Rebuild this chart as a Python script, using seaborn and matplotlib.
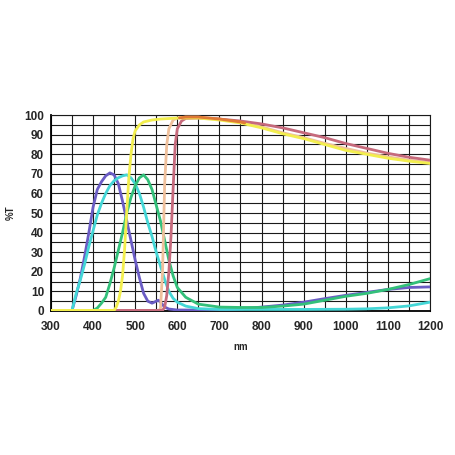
import numpy as np
import pandas as pd
import seaborn as sns
import matplotlib.pyplot as plt

# transmission curves (nm, %T)
violet_nm = [300, 350, 360, 370, 380, 390, 400, 410, 420, 430, 440, 450, 460, 470, 480, 490, 500, 510, 520, 530, 540, 550, 555, 560, 570, 580, 600, 700, 750, 800, 850, 900, 950, 1000, 1050, 1100, 1150, 1200]
violet_t = [0.3, 0.3, 8, 17, 28, 40, 53, 62, 66, 69, 70.5, 69.5, 65, 56, 46, 36, 26, 17, 9, 5, 4, 5, 5.5, 4.5, 2, 1, 0.5, 0.5, 1, 2, 3, 4.5, 6.3, 8, 9.5, 11, 12, 12.3]

turq_nm = [300, 350, 360, 370, 380, 390, 400, 410, 420, 430, 440, 450, 460, 470, 480, 490, 500, 510, 520, 530, 540, 550, 560, 570, 580, 590, 600, 620, 650, 700, 800, 900, 1000, 1050, 1100, 1150, 1200]
turq_t = [0.3, 0.3, 9, 16, 24, 33, 41, 49, 55, 60, 64, 66.5, 68, 69, 69.5, 68, 65, 60, 53, 45, 38, 30, 23, 16, 10, 6.5, 4.5, 2.5, 1.2, 0.8, 0.8, 0.8, 0.9, 1.1, 1.6, 2.6, 4.5]

green_nm = [300, 400, 410, 420, 430, 440, 450, 460, 470, 480, 490, 500, 510, 520, 530, 540, 550, 560, 570, 580, 590, 600, 620, 650, 700, 750, 800, 850, 900, 950, 1000, 1050, 1100, 1150, 1200]
green_t = [0.3, 0.3, 1.5, 4, 7, 14, 22, 31, 40, 50, 58, 64, 68, 69.5, 67, 62, 54, 46, 36, 26, 18, 12, 7, 3.5, 2, 1.8, 1.8, 2.5, 3.5, 5.5, 7.5, 9, 11, 13.5, 16.5]

yellow_nm = [300, 450, 455, 460, 465, 470, 475, 480, 485, 490, 495, 500, 510, 520, 540, 560, 600, 650, 700, 750, 800, 850, 900, 950, 1000, 1050, 1100, 1150, 1200]
yellow_t = [0.3, 0.3, 2, 5, 10, 18, 32, 51, 68, 80, 88, 92, 95, 96.5, 97.5, 98, 98.5, 98.5, 97.5, 96, 93.5, 90.5, 88, 85, 82, 80, 78, 76.5, 75.3]

peach_nm = [300, 555, 560, 565, 570, 575, 580, 590, 600, 620, 650, 700, 750, 800, 850, 900, 950, 1000, 1050, 1100, 1150, 1200]
peach_t = [0.3, 0.3, 1, 20, 65, 85, 93, 97.5, 98.5, 99, 99, 98, 96.3, 94, 91, 88.5, 85.6, 83, 80.6, 78.7, 77, 75.8]

red_nm = [300, 565, 570, 575, 580, 585, 590, 595, 600, 610, 620, 650, 700, 750, 800, 850, 900, 950, 1000, 1050, 1100, 1150, 1200]
red_t = [0.3, 0.3, 2, 8, 20, 38, 62, 85, 93, 97, 98.3, 98.5, 98, 97, 95.5, 93.5, 91, 88.5, 85.5, 83, 80.5, 78.5, 77]

orange_nm = [605, 620, 650, 700, 750, 760]
orange_t = [98.6, 99, 99, 98, 96.5, 96]

series = [
    (violet_nm, violet_t, '#6a5cc4'),
    (turq_nm, turq_t, '#44d6d6'),
    (green_nm, green_t, '#33c07a'),
    (peach_nm, peach_t, '#efc09c'),
    (red_nm, red_t, '#c66a7c'),
    (yellow_nm, yellow_t, '#f2ee4e'),
    (orange_nm, orange_t, '#e07a36'),
]

sns.set_style('white')
plt.rcParams['font.family'] = ['Liberation Sans', 'DejaVu Sans']

fig = plt.figure(figsize=(4.55, 4.55), dpi=100)
ax = fig.add_axes([0.112, 0.3165, 0.833, 0.4305])

for nm, t, c in series:
    sns.lineplot(x=nm, y=t, color=c, linewidth=2.0, sort=False, ax=ax, zorder=3)

ax.set_xlim(300, 1200)
ax.set_ylim(0, 100)
ax.set_xticks(np.arange(300, 1201, 100))
ax.set_xticks(np.arange(350, 1200, 100), minor=True)
ax.set_yticks(np.arange(0, 101, 10))
ax.set_yticks(np.arange(5, 100, 10), minor=True)
ax.grid(True, which='both', color='#1a1a1a', linewidth=0.8, zorder=1)
ax.set_axisbelow(True)

ax.tick_params(which='both', direction='inout', length=4, width=1, color='black')
ax.tick_params(axis='x', which='major', labelsize=8.5, pad=5)
ax.tick_params(axis='y', which='major', labelsize=8.5, pad=3)
for lab in ax.get_xticklabels() + ax.get_yticklabels():
    lab.set_fontweight('bold')

for side in ['left', 'bottom']:
    ax.spines[side].set_color('black')
    ax.spines[side].set_linewidth(1.3)
for side in ['top', 'right']:
    ax.spines[side].set_color('#1a1a1a')
    ax.spines[side].set_linewidth(0.8)

ax.set_xlabel('nm', fontsize=7, fontweight='bold', labelpad=7)
ax.set_ylabel('%T', fontsize=7, fontweight='bold', labelpad=6)

fig.savefig('out.png', dpi=100)
